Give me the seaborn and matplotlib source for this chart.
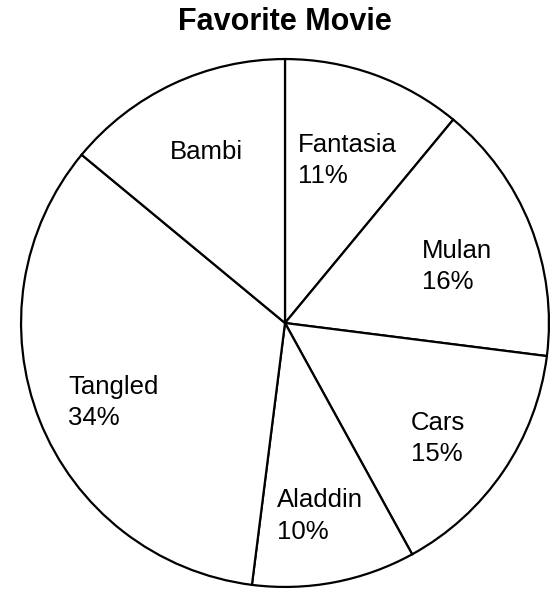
import matplotlib
matplotlib.use("Agg")
import matplotlib.pyplot as plt
import matplotlib.transforms as mtransforms
import seaborn as sns

sns.set_style("white")
plt.rcParams['font.family'] = ['Liberation Sans', 'DejaVu Sans']

movies = ["Fantasia", "Mulan", "Cars", "Aladdin", "Tangled", "Bambi"]
shares = [11, 16, 15, 10, 34, 14]
labels = ["Fantasia\n11%", "Mulan\n16%", "Cars\n15%", "Aladdin\n10%", "Tangled\n34%", "Bambi"]

fig = plt.figure(figsize=(5.59, 5.92), dpi=100)
ax = fig.add_axes([20/559, 4/592, 530/559, 530/592])
wedges, texts = ax.pie(shares, labels=labels, startangle=90, counterclock=False,
                       colors=["white"] * len(shares), labeldistance=0.70,
                       wedgeprops=dict(edgecolor="black", linewidth=1.6),
                       textprops=dict(fontsize=18.5, ha="center", va="top",
                                      multialignment="left", color="black",
                                      linespacing=1.38))
shift = mtransforms.ScaledTranslation(0, 0.16, fig.dpi_scale_trans)
for t in texts:
    t.set_transform(ax.transData + shift)
ax.set_xlim(-1.004, 1.004)
ax.set_ylim(-1.004, 1.004)
ax.set_aspect("equal")
ax.axis("off")
fig.text(285/559, 1 - 22/592, "Favorite Movie", ha="center", va="center",
         fontsize=22, fontweight="bold", color="black")
fig.savefig("out.png", dpi=100)
